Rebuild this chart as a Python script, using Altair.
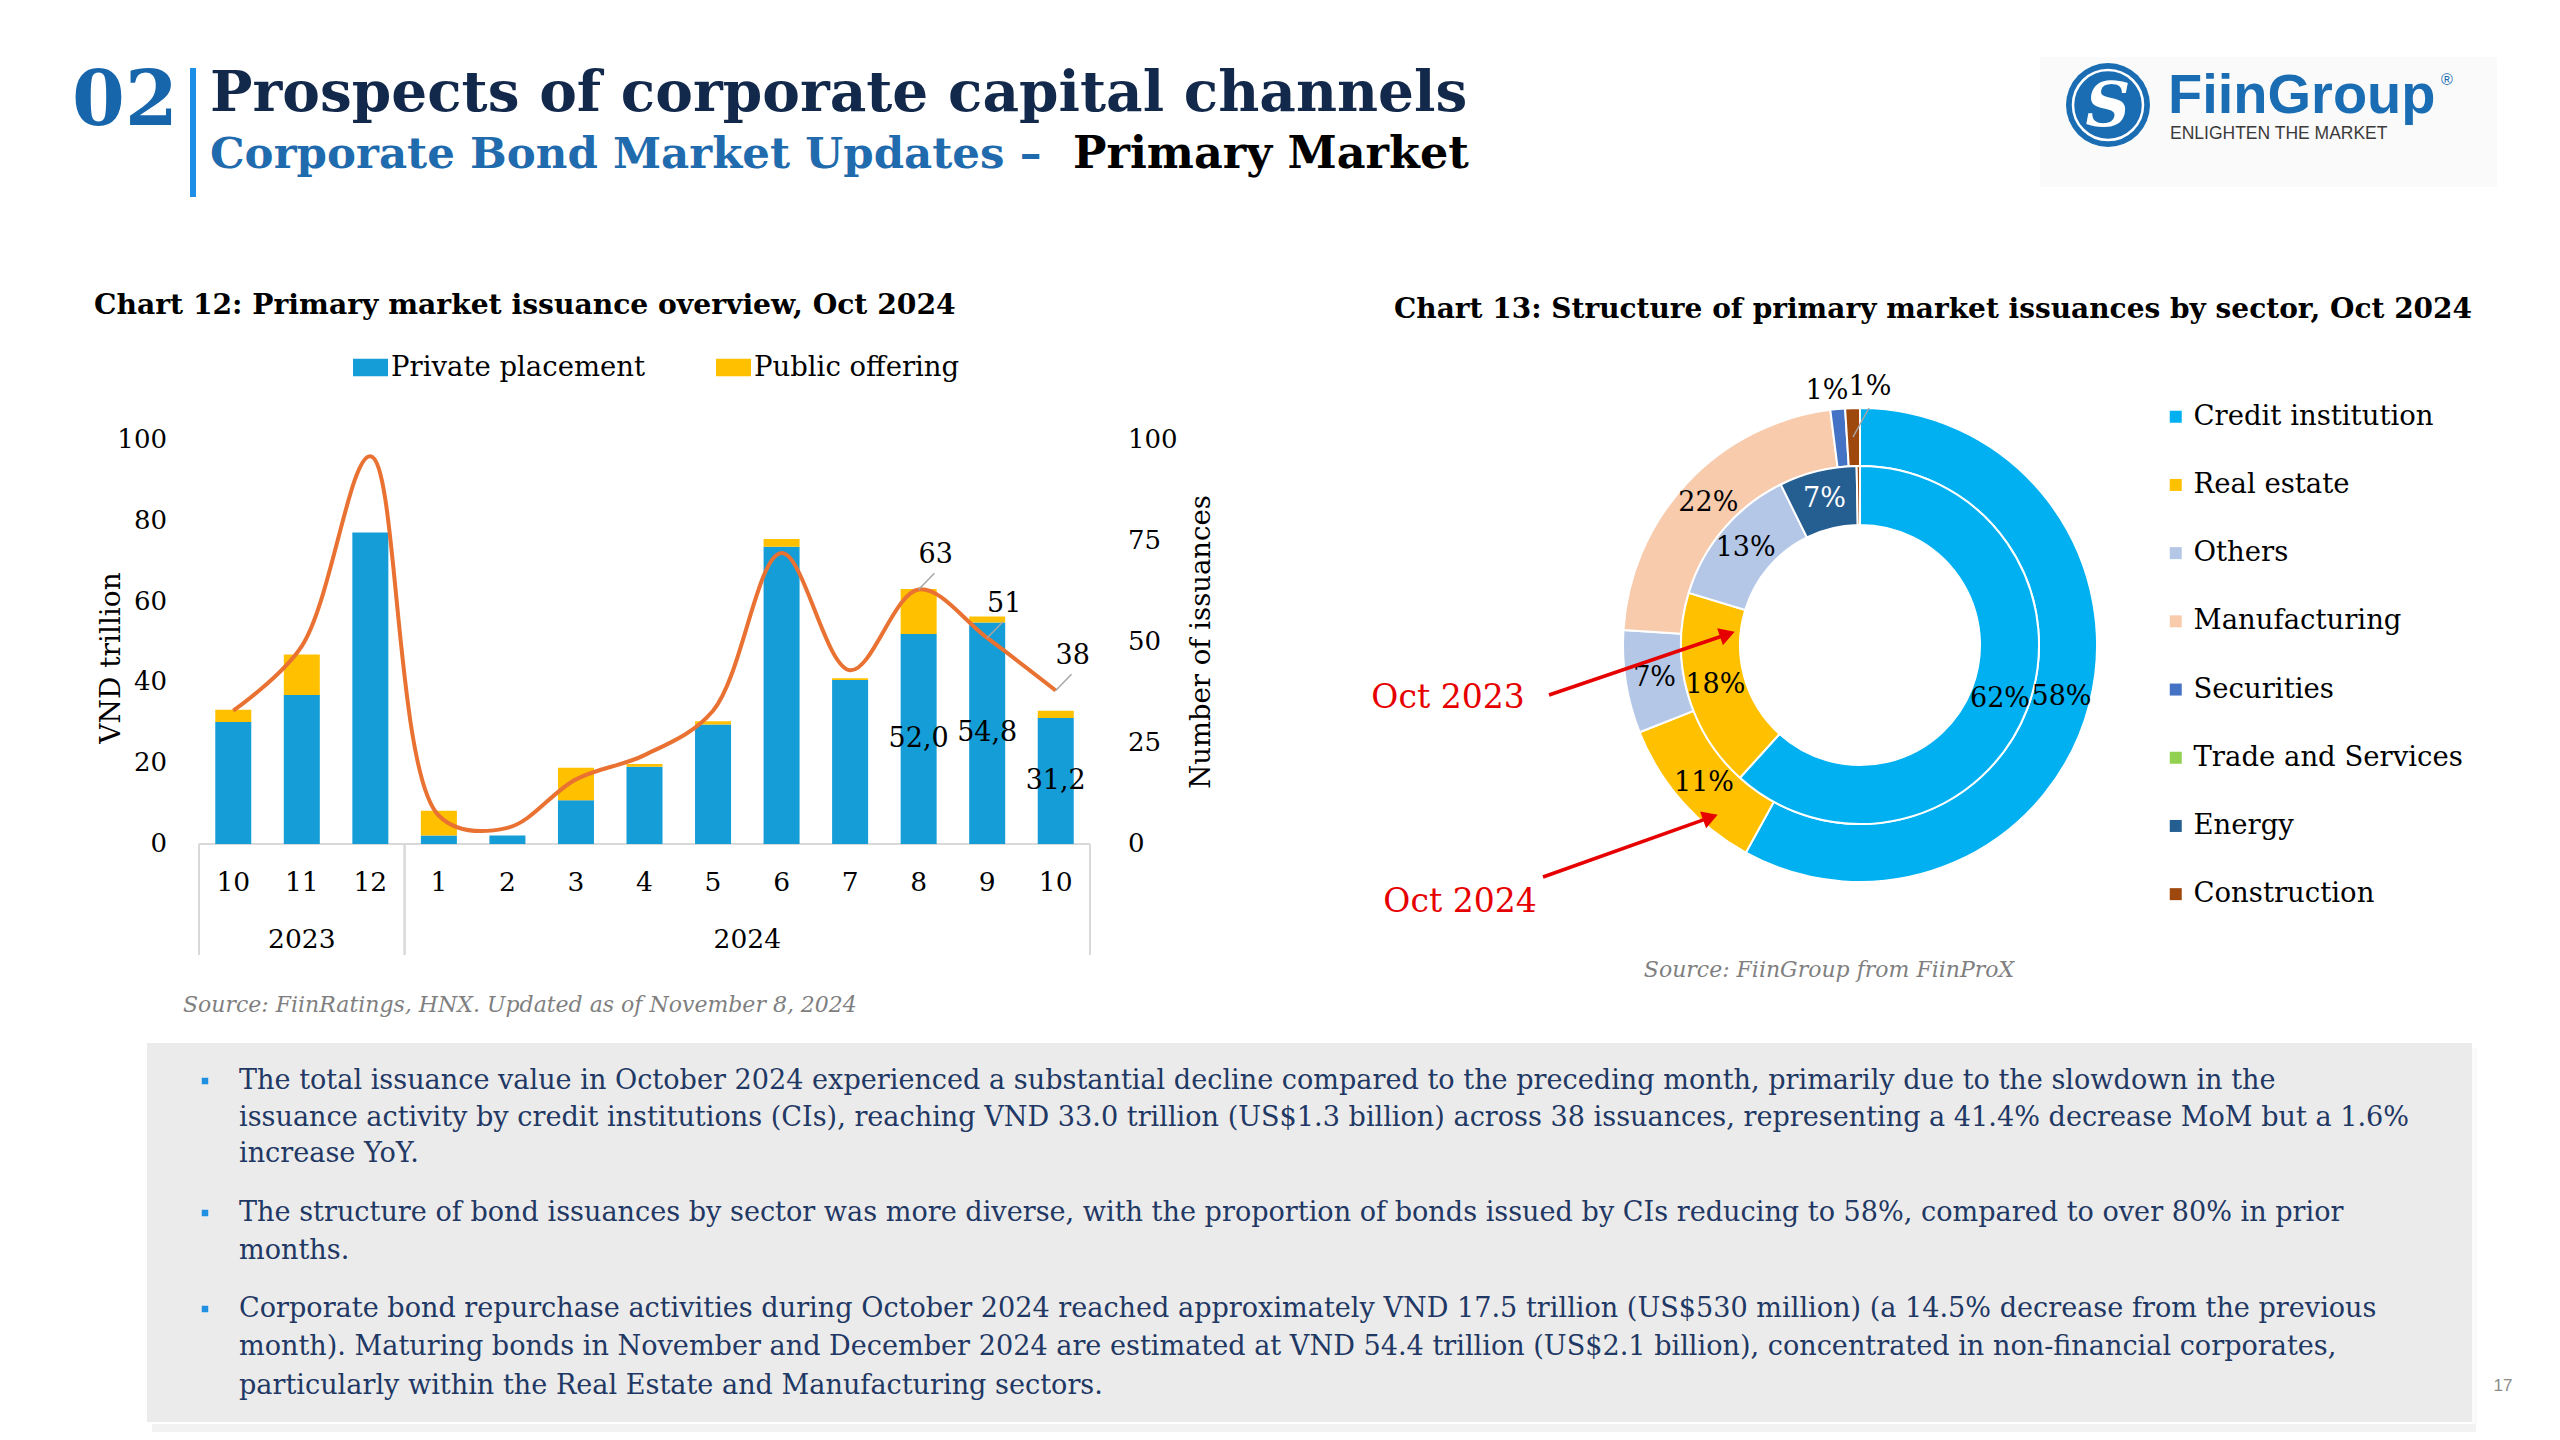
import math
import altair as alt
import pandas as pd

# ---------------- data ----------------
months = ["10", "11", "12", "1", "2", "3", "4", "5", "6", "7", "8", "9", "10"]
years = ["2023"] * 3 + ["2024"] * 10
private = [30.2, 36.9, 77.1, 2.1, 2.1, 10.8, 19.1, 29.6, 73.6, 40.6, 52.0, 54.8, 31.2]
public = [3.0, 10.0, 0.0, 6.1, 0.0, 8.1, 0.7, 0.8, 1.9, 0.4, 11.1, 1.5, 1.8]
issuances = [33, 49, 96, 7, 4, 16, 22, 33, 72, 43, 63, 51, 38]
left_ticks = [0, 20, 40, 60, 80, 100]
right_ticks = [0, 25, 50, 75, 100]
series = ["Private placement", "Public offering"]

sectors = ["Credit institution", "Real estate", "Others", "Manufacturing",
           "Securities", "Trade and Services", "Energy", "Construction"]
share_oct2024 = [58, 11, 7, 22, 1, 0, 0, 1]
share_oct2023 = [61.7, 18, 13, 0, 0, 0, 7, 0.3]

bullet_lines = [
    ["The total issuance value in October 2024 experienced a substantial decline compared to the preceding month, primarily due to the slowdown in the",
     "issuance activity by credit institutions (CIs), reaching VND 33.0 trillion (US$1.3 billion) across 38 issuances, representing a 41.4% decrease MoM but a 1.6%",
     "increase YoY."],
    ["The structure of bond issuances by sector was more diverse, with the proportion of bonds issued by CIs reducing to 58%, compared to over 80% in prior",
     "months."],
    ["Corporate bond repurchase activities during October 2024 reached approximately VND 17.5 trillion (US$530 million) (a 14.5% decrease from the previous",
     "month). Maturing bonds in November and December 2024 are estimated at VND 54.4 trillion (US$2.1 billion), concentrated in non-financial corporates,",
     "particularly within the Real Estate and Manufacturing sectors."],
]

# ---------------- styles ----------------
SERIF = "DejaVu Serif"
SANS = "Liberation Sans"
series_colors = ["#149DD6", "#FFC000"]
sector_colors = ["#00B0F0", "#FFC000", "#B4C7E7", "#F8CBAD", "#4472C4", "#92D050", "#255E91", "#9E480E"]
ORANGE = "#E97132"
GRID = "#D9D9D9"
RED = "#E60000"
LABEL_FROM = 10


def P(v):
    return v - 8


ONE = pd.DataFrame({"k": [0]})


def text(s, x, y, size, color="#000000", weight="normal", align="left", baseline="middle",
         font=SERIF, style="normal", angle=None):
    kw = dict(text=s, fontSize=size, color=color, fontWeight=weight, align=align,
              baseline=baseline, font=font, fontStyle=style)
    if angle is not None:
        kw["angle"] = angle
    return alt.Chart(ONE).mark_text(**kw).encode(x=alt.value(P(x)), y=alt.value(P(y)))


def rect(x1, y1, x2, y2, fill, opacity=1.0):
    return alt.Chart(ONE).mark_rect(color=fill, opacity=opacity).encode(
        x=alt.value(P(x1)), x2=alt.value(P(x2)), y=alt.value(P(y1)), y2=alt.value(P(y2)))


def rule(x1, y1, x2, y2, color, width):
    return alt.Chart(ONE).mark_rule(color=color, strokeWidth=width).encode(
        x=alt.value(P(x1)), x2=alt.value(P(x2)), y=alt.value(P(y1)), y2=alt.value(P(y2)))


def arrow(x1, y1, x2, y2):
    ang = math.degrees(math.atan2(y2 - y1, x2 - x1)) % 360
    L = math.hypot(x2 - x1, y2 - y1)
    ux, uy = (x2 - x1) / L, (y2 - y1) / L
    tip = alt.Chart(ONE).mark_point(shape="triangle-right", filled=True, color=RED, size=320,
                                    angle=ang, opacity=1).encode(
        x=alt.value(P(x2 - 7 * ux)), y=alt.value(P(y2 - 7 * uy)))
    return [rule(x1, y1, x2 - 10 * ux, y2 - 10 * uy, RED, 3.5), tip]


layers = []

# ---------------- header ----------------
layers += [
    text("02", 72, 125, 76, color="#1766AC", weight="bold", baseline="alphabetic"),
    rule(193, 68, 193, 197, "#1E8FE6", 6),
    text("Prospects of corporate capital channels", 210, 111, 56.5, color="#13294B", weight="bold", baseline="alphabetic"),
    text("Corporate Bond Market Updates \u2013", 210, 168, 43.5, color="#1F6BAE", weight="bold", baseline="alphabetic"),
    text("Primary Market", 1073, 168, 44.5, color="#000000", weight="bold", baseline="alphabetic"),
]

# logo
layers += [
    rect(2040, 57, 2497, 187, "#FAFAFA"),
    alt.Chart(ONE).mark_point(shape="circle", filled=True, color="#1A6DB2", size=7056, opacity=1).encode(
        x=alt.value(P(2108)), y=alt.value(P(105))),
    alt.Chart(ONE).mark_point(shape="circle", filled=False, color="#FFFFFF", size=4900, strokeWidth=2.5, opacity=1).encode(
        x=alt.value(P(2108)), y=alt.value(P(105))),
    text("S", 2108, 107, 62, color="#FFFFFF", weight="bold", style="italic", align="center"),
    text("FiinGroup", 2168, 113, 56, color="#1A6DB2", weight="bold", font=SANS, baseline="alphabetic"),
    text("\u00ae", 2447, 80, 16, color="#1A6DB2", font=SANS, align="center"),
    text("ENLIGHTEN THE MARKET", 2170, 134, 17.5, color="#3A3A3A", font=SANS),
]

# ---------------- chart 12 ----------------
X = alt.Scale(domain=[-0.5, 12.5], range=[P(194), P(1095)], nice=False, zero=False)
Y = alt.Scale(domain=[0, 100], range=[P(844), P(440)], nice=False)

n = len(months)
idx = list(range(n))
bars_df = pd.DataFrame({
    "idx": idx * 2,
    "type": [series[0]] * n + [series[1]] * n,
    "ord": [0] * n + [1] * n,
    "value": private + public,
})
line_df = pd.DataFrame({"idx": idx, "n": issuances})
cat_df = pd.DataFrame({"idx": idx, "month": months, "year": years})
priv_df = pd.DataFrame({"idx": idx, "v": private})

bars = alt.Chart(bars_df).mark_bar(size=36).encode(
    x=alt.X("idx:Q", scale=X, axis=None),
    y=alt.Y("value:Q", scale=Y, axis=None, stack="zero"),
    color=alt.Color("type:N", scale=alt.Scale(domain=series, range=series_colors),
                    legend=alt.Legend(title=None, orient="none", legendX=P(353), legendY=P(350),
                                      direction="horizontal", columns=2,
                                      symbolType="M-1,-0.5H1V0.5H-1Z", symbolSize=1225,
                                      symbolStrokeWidth=0, symbolOpacity=1,
                                      labelFont=SERIF, labelFontSize=27.5, labelColor="#000000",
                                      labelLimit=1000, columnPadding=70, labelOffset=3)),
    order=alt.Order("ord:Q"),
)

frame = alt.Chart(cat_df).transform_aggregate(lo="min(idx)", hi="max(idx)").transform_calculate(
    a="datum.lo - 0.5", b="datum.hi + 0.5", z="0")
base_rule = frame.mark_rule(color=GRID, strokeWidth=2).encode(
    x=alt.X("a:Q", scale=X, axis=None), x2="b:Q", y=alt.Y("z:Q", scale=Y, axis=None))

seps = alt.Chart(cat_df).transform_aggregate(
    lo="min(idx)", hi="max(idx)", groupby=["year"]).transform_fold(["lo", "hi"]).transform_calculate(
    b="datum.key == 'lo' ? datum.value - 0.5 : datum.value + 0.5", z="0").mark_rule(
    color=GRID, strokeWidth=2).encode(
    x=alt.X("b:Q", scale=X, axis=None), y=alt.Y("z:Q", scale=Y, axis=None), y2=alt.value(P(955)))

line = alt.Chart(line_df).mark_line(interpolate="catmull-rom", color=ORANGE, strokeWidth=4).encode(
    x=alt.X("idx:Q", scale=X, axis=None), y=alt.Y("n:Q", scale=Y, axis=None))

line_lbl_base = alt.Chart(line_df).transform_filter(f"datum.idx >= {LABEL_FROM}")
leader = line_lbl_base.transform_calculate(x2="datum.idx + 0.23", y2="datum.n + 4").mark_rule(
    color="#A6A6A6", strokeWidth=1.5).encode(
    x=alt.X("idx:Q", scale=X, axis=None), y=alt.Y("n:Q", scale=Y, axis=None), x2="x2:Q", y2="y2:Q")
line_lbl = line_lbl_base.mark_text(font=SERIF, fontSize=27, color="#000000", dx=17, dy=-34).encode(
    x=alt.X("idx:Q", scale=X, axis=None), y=alt.Y("n:Q", scale=Y, axis=None), text="n:Q")

bar_lbl = alt.Chart(priv_df).transform_filter(f"datum.idx >= {LABEL_FROM}").transform_calculate(
    mid="datum.v / 2", lbl="replace(format(datum.v, '.1f'), '.', ',')").mark_text(
    font=SERIF, fontSize=27, color="#000000").encode(
    x=alt.X("idx:Q", scale=X, axis=None), y=alt.Y("mid:Q", scale=Y, axis=None), text="lbl:N")

month_lbl = alt.Chart(cat_df).mark_text(font=SERIF, fontSize=26.5, color="#000000").encode(
    x=alt.X("idx:Q", scale=X, axis=None), y=alt.value(P(883)), text="month:N")
year_lbl = alt.Chart(cat_df).transform_aggregate(c="mean(idx)", groupby=["year"]).mark_text(
    font=SERIF, fontSize=26.5, color="#000000").encode(
    x=alt.X("c:Q", scale=X, axis=None), y=alt.value(P(940)), text="year:N")

lt = alt.Chart(pd.DataFrame({"v": left_ticks})).mark_text(
    font=SERIF, fontSize=26, color="#000000", align="right").encode(
    y=alt.Y("v:Q", scale=Y, axis=None), x=alt.value(P(167)), text="v:Q")
rt = alt.Chart(pd.DataFrame({"v": right_ticks})).mark_text(
    font=SERIF, fontSize=26, color="#000000", align="left").encode(
    y=alt.Y("v:Q", scale=Y, axis=None), x=alt.value(P(1128)), text="v:Q")

layers += [
    text("Chart 12: Primary market issuance overview, Oct 2024", 94, 314, 28.2, weight="bold", baseline="alphabetic"),
    base_rule, seps, bars, line, leader, line_lbl, bar_lbl, month_lbl, year_lbl, lt, rt,
    text("VND trillion", 112, 658, 28, align="center", angle=270),
    text("Number of issuances", 1202, 642, 27.5, align="center", angle=270),
    text("Source: FiinRatings, HNX. Updated as of November 8, 2024", 183, 1005, 22,
         color="#7F7F7F", style="italic"),
]

# ---------------- chart 13 ----------------
TS = alt.Scale(domain=[0, 100], range=[0, 2 * math.pi], zero=False, nice=False)
CX, CY = P(1860), P(645)
donut_df = pd.DataFrame({
    "sector": sectors * 2,
    "ring": ["Oct 2024"] * len(sectors) + ["Oct 2023"] * len(sectors),
    "v": share_oct2024 + share_oct2023,
    "o": list(range(len(sectors))) * 2,
})


def ring_base(ring):
    return alt.Chart(donut_df).transform_filter(f"datum.ring == '{ring}'").transform_window(
        cum="sum(v)", sort=[alt.SortField("o", order="ascending")], frame=[None, 0]).transform_calculate(
        start="datum.cum - datum.v", mid="datum.cum - datum.v / 2",
        lbl="format(datum.v / 100, '.0%')").transform_filter("datum.v > 0")


sector_scale = alt.Scale(domain=sectors, range=sector_colors)
outer = ring_base("Oct 2024").mark_arc(radius=237, radius2=179, stroke="#FFFFFF", strokeWidth=2).encode(
    theta=alt.Theta("start:Q", scale=TS, stack=None), theta2="cum:Q",
    color=alt.Color("sector:N", scale=sector_scale,
                    legend=alt.Legend(title=None, orient="none", legendX=P(2162), legendY=P(403),
                                      direction="vertical", symbolType="square", symbolSize=144,
                                      symbolStrokeWidth=0, symbolOpacity=1,
                                      labelFont=SERIF, labelFontSize=27.5, labelColor="#000000",
                                      labelLimit=1000, rowPadding=39.2, labelOffset=4)),
    x=alt.value(CX), y=alt.value(CY))
inner = ring_base("Oct 2023").mark_arc(radius=179, radius2=120, stroke="#FFFFFF", strokeWidth=2).encode(
    theta=alt.Theta("start:Q", scale=TS, stack=None), theta2="cum:Q",
    color=alt.Color("sector:N", scale=sector_scale, legend=None),
    x=alt.value(CX), y=alt.value(CY))

lbl_color = alt.when(alt.datum.sector == "Energy").then(alt.value("#FFFFFF")).otherwise(alt.value("#000000"))


def ring_labels(ring, r):
    return ring_base(ring).transform_filter("datum.v >= 3").mark_text(
        radius=r, font=SERIF, fontSize=27).encode(
        theta=alt.Theta("mid:Q", scale=TS, stack=None), text="lbl:N", color=lbl_color,
        x=alt.value(CX), y=alt.value(CY))


def small_label(sector, dx, dy):
    return ring_base("Oct 2024").transform_filter(f"datum.sector == '{sector}'").mark_text(
        radius=255, font=SERIF, fontSize=27, color="#000000", dx=dx, dy=dy).encode(
        theta=alt.Theta("mid:Q", scale=TS, stack=None), text="lbl:N",
        x=alt.value(CX), y=alt.value(CY))


layers += [
    text("Chart 13: Structure of primary market issuances by sector, Oct 2024", 1394, 318, 28,
         weight="bold", baseline="alphabetic"),
    outer, inner,
    ring_labels("Oct 2024", 208), ring_labels("Oct 2023", 150),
    small_label("Securities", -9, 0), small_label("Construction", 18, -3),
    rule(1853, 437, 1869, 408, "#A6A6A6", 1.5),
    text("Oct 2023", 1448, 698, 33, color=RED, align="center"),
    text("Oct 2024", 1460, 902, 33, color=RED, align="center"),
]
layers += arrow(1549, 695, 1734, 632)
layers += arrow(1543, 877, 1717, 815)
layers.append(text("Source: FiinGroup from FiinProX", 1829, 970, 22, color="#7F7F7F",
                   style="italic", align="center"))

# ---------------- text box ----------------
layers += [
    rect(152, 1424, 2476, 1432, "#000000", 0.05),
    rect(156, 1432, 2472, 1437, "#000000", 0.025),
    rect(2472, 1048, 2477, 1424, "#000000", 0.02),
    rect(147, 1043, 2472, 1422, "#EBEBEB"),
]
line_y = [[1081, 1118, 1154], [1213, 1251], [1309, 1347, 1386]]
for para, ys in zip(bullet_lines, line_y):
    layers.append(alt.Chart(ONE).mark_point(shape="square", filled=True, color="#1E8FE1", size=42, opacity=1).encode(
        x=alt.value(P(205)), y=alt.value(P(ys[0]))))
    for s, y in zip(para, ys):
        layers.append(text(s, 239, y, 27.1, color="#1F3864"))

layers.append(text("17", 2503, 1386, 17, color="#8C8C8C", font=SANS, align="center"))

chart = alt.layer(*layers).properties(
    width=2544, height=1424, padding=0, background="#FFFFFF",
    autosize=alt.AutoSizeParams(type="none"),
).resolve_scale(color="independent").configure_view(strokeWidth=0)

chart.save("out.html", embed_options={"renderer": "svg", "actions": False})
